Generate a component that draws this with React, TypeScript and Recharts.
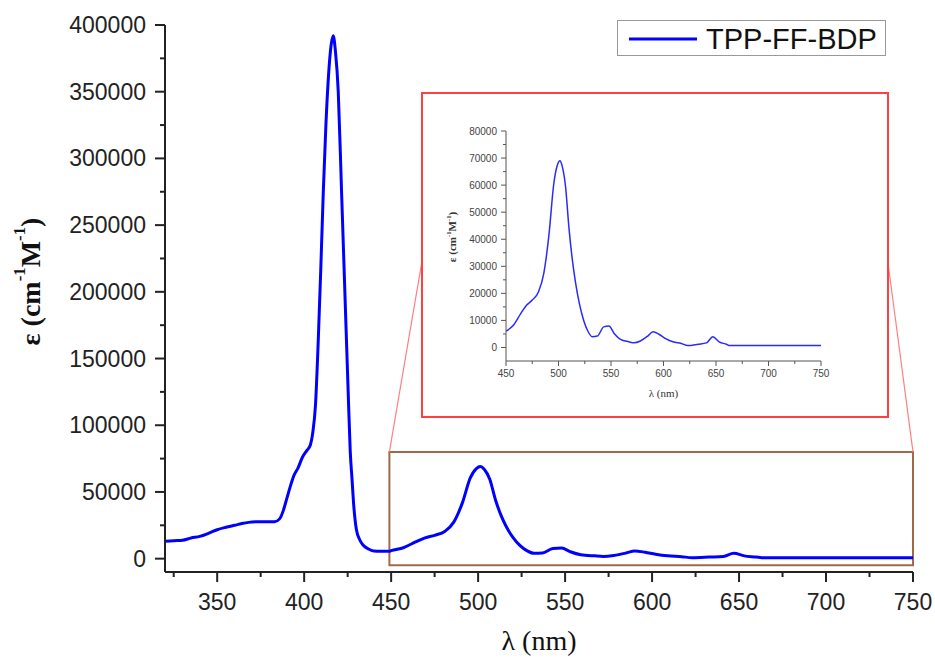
import { LineChart, Line, XAxis, YAxis, Legend, Label, ReferenceArea, ReferenceLine } from "recharts";

// wavelength (nm) and molar extinction coefficient (cm-1 M-1)
const wavelengths = [
  320, 325, 330, 335, 340, 345, 350, 355, 360, 365, 370, 375, 383, 386, 388, 390, 392, 394, 396.5, 399,
  401.5, 403.5, 405, 406.5, 408, 409.5, 411, 412.5, 414, 415.5, 416.7, 418, 419.6, 421.5, 423.4, 425.3,
  426.5, 427.5, 428.5, 430, 432, 434, 437, 440, 444, 449,
  450, 457, 464, 469.5, 475, 481, 486, 491, 495.5, 499, 501.3, 503.5, 506.7, 510, 513, 516, 520, 524, 528,
  532, 537, 543, 548, 553, 559, 567, 572, 578, 585, 590, 596, 602, 609, 617, 623, 633, 641, 647, 653,
  660, 663, 680, 700, 720, 750,
];
const epsilon = [
  13000, 13500, 13800, 15500, 16700, 19000, 21700, 23500, 25000, 26500, 27500, 27700, 27700, 30000, 36000, 45000, 54000, 62000, 68000, 76000,
  81000, 85000, 95000, 115000, 160000, 215000, 275000, 325000, 362000, 385000, 392000, 380000, 350000, 275000, 200000, 125000,
  80000, 60000, 40000, 22000, 14000, 10000, 7200, 5800, 5500, 5500,
  6000, 8200, 12500, 15600, 17500, 20600, 27400, 42000, 60500, 67500, 69000, 67000, 59500, 44000, 33000, 24500, 16000, 10000, 6000,
  4000, 4200, 7600, 7900, 5200, 3000, 2100, 1700, 2400, 4200, 5800, 4800, 3300, 2100, 1500, 700, 1200, 1700, 4000, 2100,
  1200, 700, 700, 700, 700, 700,
];

const mainXTicks = [325, 350, 375, 400, 425, 450, 475, 500, 525, 550, 575, 600, 625, 650, 675, 700, 725, 750];
const mainYTicks = [0, 25000, 50000, 75000, 100000, 125000, 150000, 175000, 200000, 225000, 250000, 275000, 300000, 325000, 350000, 375000, 400000];
const insetXTicks = [450, 475, 500, 525, 550, 575, 600, 625, 650, 675, 700, 725, 750];
const insetYTicks = [0, 5000, 10000, 15000, 20000, 25000, 30000, 35000, 40000, 45000, 50000, 55000, 60000, 65000, 70000, 75000, 80000];

const seriesName = "TPP-FF-BDP";

const spectrum = wavelengths.map((nm, i) => ({ nm, eps: epsilon[i] }));
const zoomed = spectrum.filter((d) => d.nm >= 450);

const SANS = "'Liberation Sans', Arial, sans-serif";
const SERIF = "'Liberation Serif', 'Times New Roman', serif";

const MainXTick = ({ x, y, payload }: any) => {
  const major = payload.value % 50 === 0;
  return (
    <g>
      <line x1={x} x2={x} y1={y} y2={y + (major ? 10 : 5)} stroke="#222" strokeWidth={2} />
      {major && (
        <text x={x} y={y + 38} textAnchor="middle" fontFamily={SANS} fontSize={23} fill="#222">
          {payload.value}
        </text>
      )}
    </g>
  );
};

const MainYTick = ({ x, y, payload }: any) => {
  const major = payload.value % 50000 === 0;
  return (
    <g>
      <line x1={x - (major ? 10 : 5)} x2={x} y1={y} y2={y} stroke="#222" strokeWidth={2} />
      {major && (
        <text x={x - 19} y={y} textAnchor="end" dominantBaseline="central" fontFamily={SANS} fontSize={23} fill="#222">
          {payload.value}
        </text>
      )}
    </g>
  );
};

const InsetXTick = ({ x, y, payload }: any) => {
  const major = payload.value % 50 === 0;
  return (
    <g>
      <line x1={x} x2={x} y1={y} y2={y + (major ? 5 : 3)} stroke="#555" strokeWidth={1} />
      {major && (
        <text x={x} y={y + 16} textAnchor="middle" fontFamily={SANS} fontSize={10} fill="#444">
          {payload.value}
        </text>
      )}
    </g>
  );
};

const InsetYTick = ({ x, y, payload }: any) => {
  const major = payload.value % 10000 === 0;
  return (
    <g>
      <line x1={x - (major ? 5 : 3)} x2={x} y1={y} y2={y} stroke="#555" strokeWidth={1} />
      {major && (
        <text x={x - 9} y={y} textAnchor="end" dominantBaseline="central" fontFamily={SANS} fontSize={10} fill="#444">
          {payload.value}
        </text>
      )}
    </g>
  );
};

// ε (cm-1 M-1) with superscripts, rotated
const EpsTitle = ({ cx, cy, size, color }: { cx: number; cy: number; size: number; color: string }) => {
  const sup = size * 0.6;
  const up = size * 0.38;
  return (
    <text
      x={cx}
      y={cy}
      transform={`rotate(-90, ${cx}, ${cy})`}
      textAnchor="middle"
      dominantBaseline="central"
      fontFamily={SERIF}
      fontWeight="bold"
      fontSize={size}
      fill={color}
    >
      ε (cm
      <tspan dy={-up} fontSize={sup}>-1</tspan>
      <tspan dy={up} fontSize={size}>M</tspan>
      <tspan dy={-up} fontSize={sup}>-1</tspan>
      <tspan dy={up} fontSize={size}>)</tspan>
    </text>
  );
};

const LegendBox = () => (
  <div
    style={{
      boxSizing: "border-box",
      width: 269,
      height: 36,
      border: "1px solid #999",
      background: "#fff",
      position: "relative",
    }}
  >
    <svg width={269} height={36} style={{ position: "absolute", left: 0, top: 0 }}>
      <line x1={11} x2={79} y1={18} y2={18} stroke="#0000ff" strokeWidth={3} />
      <text x={88} y={18} dominantBaseline="central" fontFamily={SANS} fontSize={29} fill="#111">
        {seriesName}
      </text>
    </svg>
  </div>
);

export default function App() {
  return (
    <div style={{ position: "absolute", left: 0, top: 0, width: 935, height: 662, background: "#fff" }}>
      <LineChart width={935} height={662} data={spectrum} margin={{ top: 25, right: 22, bottom: 30, left: 65 }}>
        <XAxis
          dataKey="nm"
          type="number"
          domain={[320, 750]}
          ticks={mainXTicks}
          interval={0}
          allowDataOverflow
          height={60}
          tickSize={0}
          tickMargin={0}
          tick={<MainXTick />}
          axisLine={{ stroke: "#222", strokeWidth: 2 }}
        >
          <Label
            content={({ viewBox }: any) => (
              <text
                x={viewBox.x + viewBox.width / 2}
                y={viewBox.y + 78}
                textAnchor="middle"
                fontFamily={SERIF}
                fontSize={28}
                fill="#111"
              >
                λ (nm)
              </text>
            )}
          />
        </XAxis>
        <YAxis
          type="number"
          domain={[-10000, 400000]}
          ticks={mainYTicks}
          interval={0}
          allowDataOverflow
          width={100}
          tickSize={0}
          tickMargin={0}
          tick={<MainYTick />}
          axisLine={{ stroke: "#222", strokeWidth: 2 }}
        >
          <Label
            content={({ viewBox }: any) => (
              <EpsTitle cx={viewBox.x - 35} cy={viewBox.y + viewBox.height / 2 - 17} size={28} color="#111" />
            )}
          />
        </YAxis>
        <ReferenceArea x1={449} x2={750} y1={-5000} y2={80000} fill="none" stroke="#a06a48" strokeWidth={2} ifOverflow="visible" />
        <ReferenceLine segment={[{ x: 449, y: 80000 }, { x: 468, y: 225000 }]} stroke="#ff8080" strokeWidth={1.2} ifOverflow="visible" />
        <ReferenceLine segment={[{ x: 750, y: 80000 }, { x: 735.3, y: 225000 }]} stroke="#ff8080" strokeWidth={1.2} ifOverflow="visible" />
        <Legend
          layout="vertical"
          align="center"
          verticalAlign="middle"
          wrapperStyle={{ left: 617, top: 20, width: 269, height: 36 }}
          content={() => <LegendBox />}
        />
        <Line
          type="monotone"
          dataKey="eps"
          name={seriesName}
          stroke="#0000ff"
          strokeWidth={3}
          dot={false}
          isAnimationActive={false}
        />
      </LineChart>

      <div
        style={{
          position: "absolute",
          left: 421,
          top: 92,
          width: 468,
          height: 326,
          boxSizing: "border-box",
          border: "2px solid #ff4040",
          background: "#fff",
        }}
      >
        <LineChart width={464} height={322} data={zoomed} margin={{ top: 37, right: 66, bottom: 0, left: 0 }}>
          <XAxis
            dataKey="nm"
            type="number"
            domain={[450, 750]}
            ticks={insetXTicks}
            interval={0}
            allowDataOverflow
            height={55}
            tickSize={0}
            tickMargin={0}
            tick={<InsetXTick />}
            axisLine={{ stroke: "#555", strokeWidth: 1 }}
          >
            <Label
              content={({ viewBox }: any) => (
                <text
                  x={viewBox.x + viewBox.width / 2}
                  y={viewBox.y + 36}
                  textAnchor="middle"
                  fontFamily={SERIF}
                  fontSize={11}
                  fill="#333"
                >
                  λ (nm)
                </text>
              )}
            />
          </XAxis>
          <YAxis
            type="number"
            domain={[-5000, 80000]}
            ticks={insetYTicks}
            interval={0}
            allowDataOverflow
            width={83}
            tickSize={0}
            tickMargin={0}
            tick={<InsetYTick />}
            axisLine={{ stroke: "#555", strokeWidth: 1 }}
          >
            <Label
              content={({ viewBox }: any) => (
                <EpsTitle cx={viewBox.x + 29} cy={viewBox.y + viewBox.height / 2 - 9} size={11} color="#333" />
              )}
            />
          </YAxis>
          <Line
            type="monotone"
            dataKey="eps"
            stroke="#2a2aff"
            strokeWidth={1.5}
            dot={false}
            isAnimationActive={false}
          />
        </LineChart>
      </div>
    </div>
  );
}
